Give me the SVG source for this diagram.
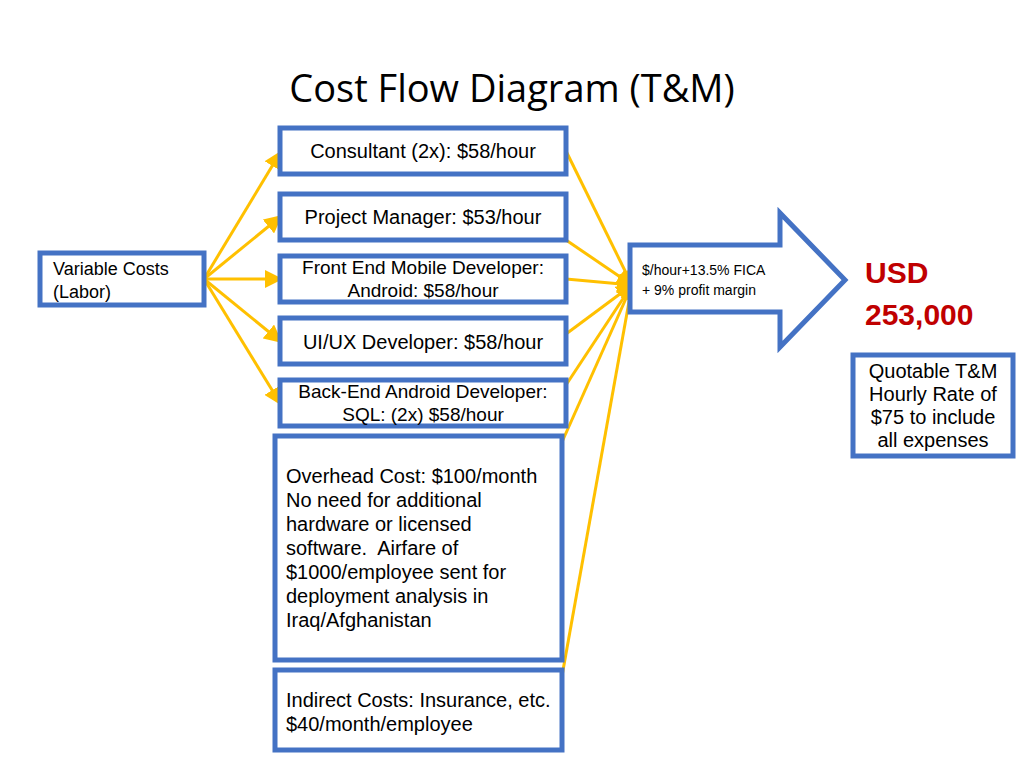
<svg xmlns="http://www.w3.org/2000/svg" width="1024" height="768" viewBox="0 0 1024 768">
<style>
.b{fill:#fff;stroke:#4472C4;stroke-width:5}
.t{font-family:"Liberation Sans",Arial,sans-serif;font-size:20px;fill:#000}
.c{stroke:#FFC000;stroke-width:3;fill:none}
</style>
<defs><marker id="a" markerWidth="6" markerHeight="6" refX="5" refY="3" orient="auto" markerUnits="strokeWidth"><path d="M0,0L6,3L0,6z" fill="#FFC000"/></marker></defs>
<rect width="1024" height="768" fill="#fff"/>
<text x="512" y="102" text-anchor="middle" style="font-family:'Open Sans','Liberation Sans',sans-serif;font-size:38px">Cost Flow Diagram (T&amp;M)</text>
<g id="connectors">
<path class="c" marker-end="url(#a)" d="M204,279L280,153"/>
<path class="c" marker-end="url(#a)" d="M204,279L280,217"/>
<path class="c" marker-end="url(#a)" d="M204,279L280,279"/>
<path class="c" marker-end="url(#a)" d="M204,279L280,341"/>
<path class="c" marker-end="url(#a)" d="M204,279L280,403"/>
<path class="c" marker-end="url(#a)" d="M566,151L632,285"/>
<path class="c" marker-end="url(#a)" d="M566,240L632,285"/>
<path class="c" marker-end="url(#a)" d="M566,279L632,285"/>
<path class="c" marker-end="url(#a)" d="M566,334L632,285"/>
<path class="c" marker-end="url(#a)" d="M566,385L632,285"/>
<path class="c" marker-end="url(#a)" d="M562,442L632,285"/>
<path class="c" marker-end="url(#a)" d="M562,676L632,285"/>
</g>
<g id="variable"><rect class="b" x="40" y="253" width="164" height="52"/><text class="t" x="53" y="275" style="font-size:18px">Variable Costs</text><text class="t" x="53" y="298" style="font-size:18px">(Labor)</text></g>
<g id="consultant"><rect class="b" x="280" y="128" width="286" height="46"/><text class="t" x="423" y="158" text-anchor="middle">Consultant (2x): $58/hour</text></g>
<g id="pm"><rect class="b" x="280" y="194" width="286" height="46"/><text class="t" x="423" y="224" text-anchor="middle">Project Manager: $53/hour</text></g>
<g id="frontend"><rect class="b" x="280" y="256" width="286" height="46"/><text class="t" x="423" y="274" text-anchor="middle" style="font-size:19px">Front End Mobile Developer:</text><text class="t" x="423" y="297" text-anchor="middle" style="font-size:19px">Android: $58/hour</text></g>
<g id="uiux"><rect class="b" x="280" y="318" width="286" height="46"/><text class="t" x="423" y="349" text-anchor="middle">UI/UX Developer: $58/hour</text></g>
<g id="backend"><rect class="b" x="280" y="380" width="286" height="46"/><text class="t" x="423" y="398" text-anchor="middle" style="font-size:19px">Back-End Android Developer:</text><text class="t" x="423" y="421" text-anchor="middle" style="font-size:19px">SQL: (2x) $58/hour</text></g>
<g id="overhead"><rect class="b" x="275" y="436" width="287" height="224"/>
<text class="t" x="286" y="483">Overhead Cost: $100/month</text><text class="t" x="286" y="507">No need for additional</text><text class="t" x="286" y="531">hardware or licensed</text><text class="t" x="286" y="555" xml:space="preserve">software.  Airfare of</text><text class="t" x="286" y="579">$1000/employee sent for</text><text class="t" x="286" y="603">deployment analysis in</text><text class="t" x="286" y="627">Iraq/Afghanistan</text></g>
<g id="indirect"><rect class="b" x="275" y="670" width="287" height="80"/><text class="t" x="286" y="707">Indirect Costs: Insurance, etc.</text><text class="t" x="286" y="731">$40/month/employee</text></g>
<g id="bigarrow"><path class="b" d="M630,245H780V213L845,280L780,347V312H630Z"/><text class="t" x="642" y="275" style="font-size:14px">$/hour+13.5% FICA</text><text class="t" x="642" y="295" style="font-size:14px">+ 9% profit margin</text></g>
<g id="usd"><text x="865" y="283" style="font-family:'Liberation Sans',Arial,sans-serif;font-size:30px;font-weight:bold;fill:#C00000">USD</text><text x="865" y="325" style="font-family:'Liberation Sans',Arial,sans-serif;font-size:30px;font-weight:bold;fill:#C00000">253,000</text></g>
<g id="quote"><rect class="b" x="853" y="355" width="160" height="101"/><text class="t" x="933" y="378" text-anchor="middle">Quotable T&amp;M</text><text class="t" x="933" y="401" text-anchor="middle">Hourly Rate of</text><text class="t" x="933" y="424" text-anchor="middle">$75 to include</text><text class="t" x="933" y="447" text-anchor="middle">all expenses</text></g>
</svg>
